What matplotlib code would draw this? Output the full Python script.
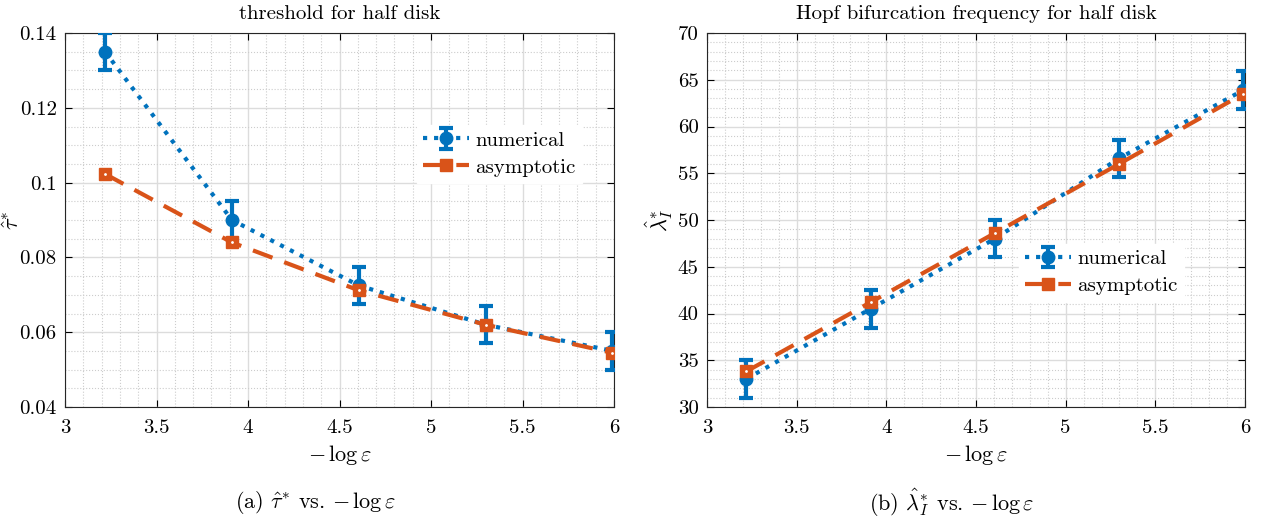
import numpy as np
import matplotlib
matplotlib.use("Agg")
import matplotlib.pyplot as plt
from matplotlib.ticker import MultipleLocator

plt.rcParams['mathtext.fontset'] = 'cm'
plt.rcParams['font.family'] = ['cmr10', 'DejaVu Serif']
plt.rcParams['axes.formatter.use_mathtext'] = True
plt.rcParams['axes.unicode_minus'] = False

eps = np.array([0.04, 0.02, 0.01, 0.005, 0.0025])
x = -np.log(eps)

tau_num = [0.135, 0.090, 0.0725, 0.062, 0.055]
tau_err = [0.005, 0.005, 0.005, 0.005, 0.005]
tau_asy = [0.1023, 0.0840, 0.0712, 0.0620, 0.0545]

lam_num = [33.0, 40.5, 48.0, 56.6, 63.9]
lam_err = [2.0, 2.0, 2.0, 2.0, 2.0]
lam_asy = [33.8, 41.2, 48.6, 56.0, 63.5]

blue = '#0072BD'
orange = '#D95319'

fig = plt.figure(figsize=(12.67, 5.26), dpi=100)
W, H = 1267, 526
ax1 = fig.add_axes([65 / W, 1 - 407 / H, (614 - 65) / W, (407 - 33) / H])
ax2 = fig.add_axes([707 / W, 1 - 407 / H, (1245 - 707) / W, (407 - 33) / H])


def draw(ax, yn, ye, ya, ylim, ymaj, ymin, fmt, title, ylabel, legpos, ylabx):
    eb = ax.errorbar(x, yn, yerr=ye, color=blue, linestyle=':', linewidth=3,
                     marker='o', markersize=9, elinewidth=3, capsize=5, capthick=3,
                     label='numerical', zorder=3)
    ln, = ax.plot(x, ya, color=orange, linestyle=(0, (5, 3)), linewidth=3,
                  marker='s', markersize=8, label='asymptotic', zorder=4)
    ax.plot(x, ya, linestyle='none', marker='.', markersize=2, color='white', zorder=5)
    ax.set_xlim(3, 6)
    ax.xaxis.set_major_locator(MultipleLocator(0.5))
    ax.xaxis.set_minor_locator(MultipleLocator(0.1))
    ax.yaxis.set_major_locator(MultipleLocator(ymaj))
    ax.yaxis.set_minor_locator(MultipleLocator(ymin))
    ax.set_ylim(*ylim)
    yt = np.arange(ylim[0], ylim[1] + ymaj / 2, ymaj)
    ax.set_yticks(yt)
    ax.set_yticklabels([fmt(v) for v in yt])
    ax.set_ylim(*ylim)
    ax.set_xticks([3, 3.5, 4, 4.5, 5, 5.5, 6])
    ax.set_xticklabels(['3', '3.5', '4', '4.5', '5', '5.5', '6'])
    ax.grid(which='major', color='#dcdcdc', linewidth=1)
    ax.grid(which='minor', color='#cccccc', linestyle=':', linewidth=0.8)
    ax.set_axisbelow(True)
    ax.tick_params(which='both', direction='in', top=True, right=True, labelsize=15)
    ax.tick_params(axis='x', which='major', pad=9)
    ax.tick_params(axis='y', which='major', pad=6)
    ax.tick_params(which='minor', length=0)
    ax.tick_params(which='major', length=5)
    for s in ax.spines.values():
        s.set_color('#262626')
    ax.set_title(title, fontsize=15, pad=10)
    ax.set_xlabel(r'$-\,\log\varepsilon$', fontsize=16, labelpad=4)
    ax.set_ylabel(ylabel, fontsize=16)
    ax.yaxis.set_label_coords(ylabx, 0.5)
    leg = ax.legend([eb, ln], ['numerical', 'asymptotic'], loc='upper left',
                    bbox_to_anchor=legpos, fontsize=15, frameon=True, fancybox=False,
                    edgecolor='white', framealpha=1, handlelength=2.2,
                    borderpad=0.3, labelspacing=0.4, handletextpad=0.3)
    return leg


draw(ax1, tau_num, tau_err, tau_asy, (0.04, 0.14), 0.02, 0.005,
     lambda v: ('%g' % round(v, 3)), 'threshold for half disk', r'$\hat{\tau}^{*}$',
     (0.622, 0.782), -0.0765)
draw(ax2, lam_num, lam_err, lam_asy, (30, 70), 5, 1,
     lambda v: ('%d' % round(v)), 'Hopf bifurcation frequency for half disk',
     r'$\hat{\lambda}_I^{*}$', (0.56, 0.465), -0.06)

fig.text(315 / W, 1 - 503 / H, r'(a) $\hat{\tau}^{*}$ vs. $-\,\log\varepsilon$',
         ha='center', va='center', fontsize=16)
fig.text(952 / W, 1 - 503 / H, r'(b) $\hat{\lambda}_I^{*}$ vs. $-\,\log\varepsilon$',
         ha='center', va='center', fontsize=16)

fig.savefig('out.png', dpi=100)
